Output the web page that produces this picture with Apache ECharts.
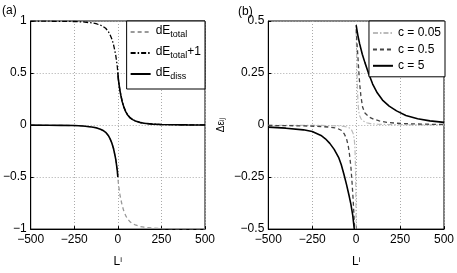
<!DOCTYPE html>
<html>
<head>
<meta charset="utf-8">
<script src="https://cdn.jsdelivr.net/npm/echarts@6/dist/echarts.min.js"></script>
<style>html,body{margin:0;padding:0;background:#fff;}#c{width:457px;height:273px;}</style>
</head>
<body>
<div id="c"></div>
<script>
// ---------- tick labels ----------
const xTicks = [-500, -250, 0, 250, 500];
const yTicksA = [-1, -0.5, 0, 0.5, 1];
const yTicksB = [-0.5, -0.25, 0, 0.25, 0.5];

// ---------- panel (a) ----------
const La = [-500,-400,-325,-250,-200,-150,-125,-100,-85,-70,-55,-45,-35,-25,-18,-12,-7,-3,0,3,7,12,18,25,35,45,55,70,85,100,125,150,200,250,325,400,500];
const dEtotal = [-0.001,-0.002,-0.003,-0.005,-0.009,-0.018,-0.026,-0.04,-0.052,-0.07,-0.1,-0.13,-0.17,-0.225,-0.28,-0.33,-0.39,-0.44,-0.5,
  -0.56,-0.61,-0.67,-0.72,-0.775,-0.83,-0.87,-0.9,-0.93,-0.948,-0.96,-0.974,-0.982,-0.991,-0.995,-0.997,-0.998,-0.999];
const dEtotalPlus1 = [0.999,0.998,0.997,0.995,0.991,0.982,0.974,0.96,0.948,0.93,0.9,0.87,0.83,0.775,0.72,0.67,0.61,0.56,0.5,
  0.44,0.39,0.33,0.28,0.225,0.17,0.13,0.1,0.07,0.052,0.04,0.026,0.018,0.009,0.005,0.003,0.002,0.001];
const Ldiss = [-500,-400,-325,-250,-200,-150,-125,-100,-85,-70,-55,-45,-35,-25,-18,-12,-7,-3,0,0,0,3,7,12,18,25,35,45,55,70,85,100,125,150,200,250,325,400,500];
const dEdiss = [-0.001,-0.002,-0.003,-0.005,-0.009,-0.018,-0.026,-0.04,-0.052,-0.07,-0.1,-0.13,-0.17,-0.225,-0.28,-0.33,-0.39,-0.44,-0.5,null,
  0.5,0.44,0.39,0.33,0.28,0.225,0.17,0.13,0.1,0.07,0.052,0.04,0.026,0.018,0.009,0.005,0.003,0.002,0.001];

// ---------- panel (b) ----------
const Lc005 = [-500,-200,-100,-60,-40,-25,-15,-10,-7,-5,-3,-2,-1,0,0,0,2,4,6,8,11,15,20,28,40,60,80,120,200,350,500];
const c005 = [-0.001,-0.002,-0.004,-0.008,-0.013,-0.025,-0.045,-0.075,-0.11,-0.16,-0.24,-0.3,-0.4,-0.52,null,
  0.45,0.38,0.3,0.22,0.16,0.1,0.065,0.045,0.03,0.02,0.011,0.007,0.004,0.002,0.001,0.001];
const Lc05 = [-500,-300,-200,-150,-110,-85,-68,-55,-45,-38,-30,-23,-17,-12,-9,-6,0,0,5,10,15,20,27,37,50,75,100,132,175,226,300,400,500];
const c05 = [-0.002,-0.004,-0.007,-0.01,-0.015,-0.025,-0.042,-0.065,-0.1,-0.14,-0.2,-0.28,-0.36,-0.44,-0.5,-0.56,null,
  0.46,0.39,0.33,0.26,0.2,0.14,0.085,0.058,0.038,0.028,0.02,0.013,0.009,0.006,0.004,0.003];
const Lc5 = [-500,-400,-300,-250,-200,-175,-150,-125,-100,-85,-70,-55,-40,-30,-20,-12,-5,0,0,10,20,35,50,70,94,120,150,188,230,283,350,420,500];
const c5 = [-0.01,-0.015,-0.023,-0.031,-0.05,-0.066,-0.088,-0.117,-0.155,-0.19,-0.235,-0.285,-0.34,-0.38,-0.43,-0.49,-0.53,null,
  0.48,0.43,0.39,0.34,0.30,0.25,0.197,0.155,0.12,0.091,0.068,0.046,0.03,0.02,0.013];

const FONT = 'Liberation Sans, Arial, Helvetica, sans-serif';
function pairs(xs, ys){ return xs.map((x,i)=>[x, ys[i]===null ? '-' : ys[i]]); }
function fmt(v){ return (v<0?'\u2212':'') + Math.abs(v); }

const legendNames = {
  'dE_total': '{m|dE}{s|total}',
  'dE_total+1': '{m|dE}{s|total}{m|+1}',
  'dE_diss': '{m|dE}{s|diss}'
};

function xAxisCfg(gi){
  return {
    type:'value', gridIndex:gi, min:xTicks[0], max:xTicks[xTicks.length-1], interval:xTicks[1]-xTicks[0],
    axisLine:{show:true, onZero:false, lineStyle:{color:'#000', width:1}},
    axisTick:{show:true, inside:true, length:3, lineStyle:{color:'#000'}},
    axisLabel:{color:'#000', fontSize:12, fontFamily:FONT, margin:5, formatter:fmt, showMinLabel:true, showMaxLabel:true},
    splitLine:{show:true, lineStyle:{color:'#aaa', type:[1,2], width:1}},
    name:'{m|L}{s|i}', nameLocation:'middle', nameGap:22,
    nameTextStyle:{color:'#000', fontFamily:FONT, rich:{
      m:{fontSize:12, fontFamily:FONT, color:'#000', lineHeight:12, padding:[5,0,0,0], verticalAlign:'bottom'},
      s:{fontSize:8, fontFamily:FONT, color:'#000', lineHeight:8, verticalAlign:'top'}}}
  };
}
function yAxisCfg(gi, ticks, extra){
  return Object.assign({
    type:'value', gridIndex:gi, min:ticks[0], max:ticks[ticks.length-1], interval:ticks[1]-ticks[0],
    axisLine:{show:true, onZero:false, lineStyle:{color:'#000', width:1}},
    axisTick:{show:true, inside:true, length:3, lineStyle:{color:'#000'}},
    axisLabel:{color:'#000', fontSize:12, fontFamily:FONT, margin:4, formatter:fmt, showMinLabel:true, showMaxLabel:true},
    splitLine:{show:true, lineStyle:{color:'#aaa', type:[1,2], width:1}}
  }, extra||{});
}

const option = {
  animation:false,
  backgroundColor:'#fff',
  textStyle:{fontFamily:FONT},
  grid:[
    {left:28.5, top:21, width:176.5, height:222, show:true, borderColor:'#000', borderWidth:1},
    {left:268.3, top:21, width:176.7, height:222, show:true, borderColor:'#000', borderWidth:1}
  ],
  xAxis:[xAxisCfg(0), xAxisCfg(1)],
  yAxis:[
    yAxisCfg(0, yTicksA),
    yAxisCfg(1, yTicksB, {
      name:'{m|\u0394\u03b5}{s|ij}', nameLocation:'middle', nameGap:36, nameRotate:90,
      nameTextStyle:{color:'#000', rich:{
        m:{fontSize:10, fontFamily:FONT, color:'#000', lineHeight:10, padding:[0,0,4,0], verticalAlign:'top'},
        s:{fontSize:7, fontFamily:FONT, color:'#000', lineHeight:7, verticalAlign:'bottom'}}}
    })
  ],
  legend:[
    {
      data:['dE_total','dE_total+1','dE_diss'],
      orient:'vertical', right:252, top:21, itemWidth:20, itemHeight:14, itemGap:5,
      padding:[4,4,6,3], borderColor:'#000', borderWidth:1, backgroundColor:'#fff', borderRadius:0,
      itemStyle:{color:'rgba(0,0,0,0)', borderWidth:0, opacity:0},
      formatter: n => legendNames[n],
      textStyle:{color:'#000', fontFamily:FONT, rich:{
        m:{fontSize:12, fontFamily:FONT, color:'#000', lineHeight:14, verticalAlign:'top', padding:[0,0,4,0]},
        s:{fontSize:9, fontFamily:FONT, color:'#000', lineHeight:10, verticalAlign:'bottom'}
      }}
    },
    {
      data:['c = 0.05','c = 0.5','c = 5'],
      orient:'vertical', right:12, top:21, itemWidth:20, itemHeight:10, itemGap:4.4,
      padding:[6,4,5,3], borderColor:'#000', borderWidth:1, backgroundColor:'#fff', borderRadius:0,
      itemStyle:{color:'rgba(0,0,0,0)', borderWidth:0, opacity:0},
      textStyle:{color:'#000', fontSize:12, fontFamily:FONT}
    }
  ],
  graphic:[
    {type:'text', left:2, top:5, style:{text:'(a)', fontSize:12, fontFamily:FONT, fill:'#000'}},
    {type:'text', left:238, top:6, style:{text:'(b)', fontSize:12, fontFamily:FONT, fill:'#000'}}
  ],
  series:[
    {name:'dE_total', type:'line', xAxisIndex:0, yAxisIndex:0, symbol:'none', connectNulls:false,
     data:pairs(La, dEtotal), lineStyle:{color:'#999', width:1.3, type:[4,3]}, itemStyle:{color:'#999'}},
    {name:'dE_total+1', type:'line', xAxisIndex:0, yAxisIndex:0, symbol:'none',
     data:pairs(La, dEtotalPlus1), lineStyle:{color:'#000', width:1.3, type:[5,2,1.5,2]}, itemStyle:{color:'#000'}},
    {name:'dE_diss', type:'line', xAxisIndex:0, yAxisIndex:0, symbol:'none', connectNulls:false,
     data:pairs(Ldiss, dEdiss), lineStyle:{color:'#000', width:1.6, type:'solid'}, itemStyle:{color:'#000'}},
    {name:'c = 0.05', type:'line', xAxisIndex:1, yAxisIndex:1, symbol:'none', connectNulls:false, clip:true,
     data:pairs(Lc005, c005), lineStyle:{color:'#bbb', width:1.2, type:[5,2,1.5,2]}, itemStyle:{color:'#bbb'}},
    {name:'c = 0.5', type:'line', xAxisIndex:1, yAxisIndex:1, symbol:'none', connectNulls:false, clip:true,
     data:pairs(Lc05, c05), lineStyle:{color:'#444', width:1.3, type:[4,3]}, itemStyle:{color:'#444'}},
    {name:'c = 5', type:'line', xAxisIndex:1, yAxisIndex:1, symbol:'none', connectNulls:false, clip:true,
     data:pairs(Lc5, c5), lineStyle:{color:'#000', width:1.6, type:'solid'}, itemStyle:{color:'#000'}}
  ]
};
const chart = echarts.init(document.getElementById('c'), null, {renderer:'canvas'});
chart.setOption(option);
</script>
</body>
</html>
